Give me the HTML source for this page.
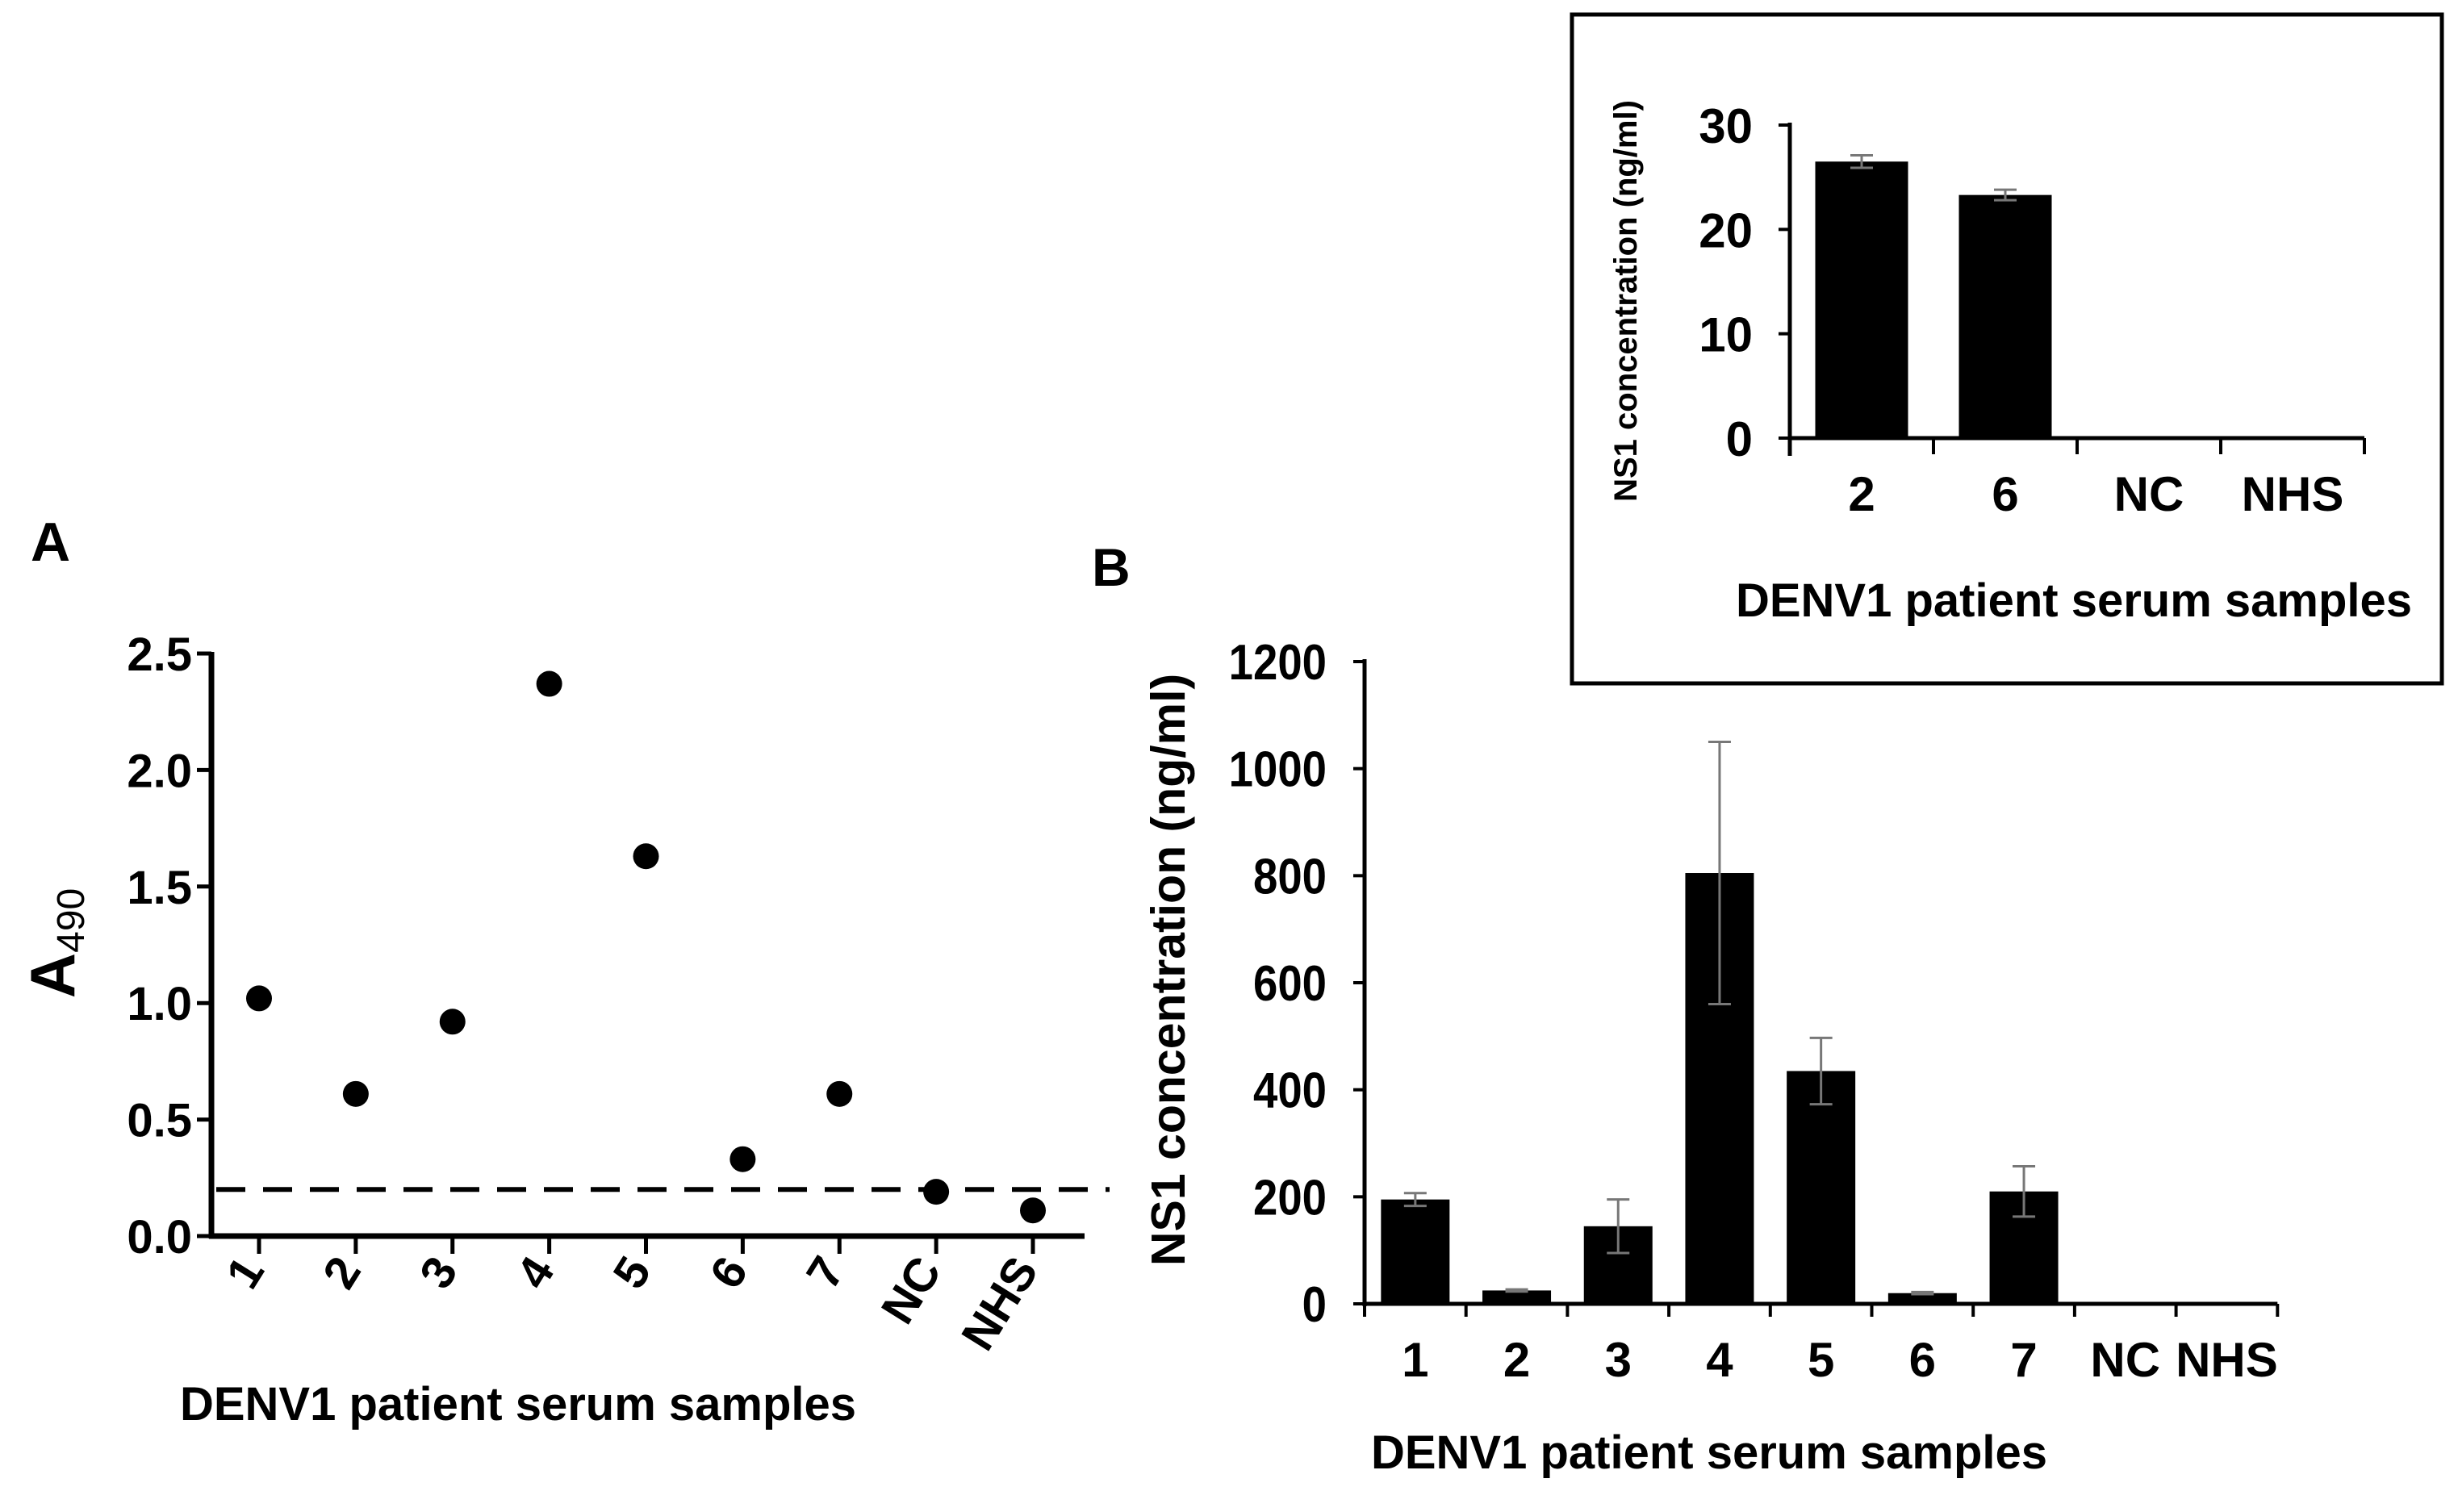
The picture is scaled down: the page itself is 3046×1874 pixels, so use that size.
<!DOCTYPE html>
<html><head><meta charset="utf-8"><style>
html,body{margin:0;padding:0;background:#fff;}
svg{display:block;font-family:"Liberation Sans",Arial,sans-serif;}
</style></head><body>
<svg id="fig" width="3046" height="1874" viewBox="0 0 3046 1874" xmlns="http://www.w3.org/2000/svg">
<g id="pa"></g>
<g id="pb"></g>
<g id="pc"></g>
</svg>
<script>
// Panel A data
const catsA = ["1","2","3","4","5","6","7","NC","NHS"];
const valsA = [1.02,0.61,0.92,2.37,1.63,0.33,0.61,0.19,0.11];
const ticksA = [0,0.5,1.0,1.5,2.0,2.5];
const cutoffA = [0.2];
// Panel B data
const catsB = ["1","2","3","4","5","6","7","NC","NHS"];
const valsB = [195,25,145,805,435,20,210,0,0];
const errB = [12,2,50,245,62,2,47,0,0];
const ticksB = [0,200,400,600,800,1000,1200];
// Inset data
const catsC = ["2","6","NC","NHS"];
const valsC = [26.5,23.3,0,0];
const errC = [0.6,0.5,0,0];
const ticksC = [0,10,20,30];

const NS="http://www.w3.org/2000/svg";
function mk(parent,tag,attrs,text){const e=document.createElementNS(NS,tag);for(const k in attrs)e.setAttribute(k,attrs[k]);if(text!==undefined)e.textContent=text;parent.appendChild(e);return e;}

// ---------- Panel A ----------
(function(){
const g=document.getElementById('pa');
const x0=262,y0=1532,yTop=810,xEnd=1344,vmax=2.5;
const ys=v=>y0-(v/vmax)*(y0-yTop);
const xs=i=>321+i*((1280-321)/8);
let t=mk(g,'text',{x:38,y:695,'font-size':68,'font-weight':'bold'},'A');

const yt=mk(g,'text',{transform:'translate(92,1169) rotate(-90)','text-anchor':'middle','font-size':78,'font-weight':'bold'});

mk(yt,'tspan',{},'A');mk(yt,'tspan',{'font-size':48,'font-weight':'normal',dy:12},'490');
let a=mk(g,'line',{x1:x0,y1:yTop-2,x2:x0,y2:y0+3,stroke:'#000','stroke-width':7});

a=mk(g,'line',{x1:x0-3,y1:y0,x2:xEnd,y2:y0,stroke:'#000','stroke-width':7});

ticksA.forEach(v=>{
 const y=ys(v);
 let l=mk(g,'line',{x1:x0-18,y1:y,x2:x0,y2:y,stroke:'#000','stroke-width':5});
 
 let tx=mk(g,'text',{x:238,y:y+21,'text-anchor':'end','font-size':58,'font-weight':'bold'},v.toFixed(1));
 
});
catsA.forEach((c,i)=>{
 const x=xs(i);
 let l=mk(g,'line',{x1:x,y1:y0,x2:x,y2:y0+22,stroke:'#000','stroke-width':5});
 
 let tx=mk(g,'text',{transform:`translate(${x+8},${y0+42}) rotate(-58)`,'text-anchor':'end','font-size':58,'font-weight':'bold'},c);
 
});
cutoffA.forEach(v=>{
 let d=mk(g,'line',{x1:268,y1:ys(v),x2:1375,y2:ys(v),stroke:'#000','stroke-width':6,'stroke-dasharray':'36,22'});
 
});
valsA.forEach((v,i)=>{
 let c=mk(g,'circle',{cx:xs(i),cy:ys(v),r:16,fill:'#000'});
 
});
t=mk(g,'text',{x:642,y:1760,'text-anchor':'middle','font-size':58,'font-weight':'bold'},'DENV1  patient serum samples');

})();

// ---------- Panel B ----------
(function(){
const g=document.getElementById('pb');
const x0=1691,y0=1616,yTop=820,vmax=1200,step=125.7,bw=85;
const ys=v=>y0-(v/vmax)*(y0-yTop);
const xc=i=>x0+step*(i+0.5);
let t=mk(g,'text',{x:1353,y:726,'font-size':66,'font-weight':'bold'},'B');

t=mk(g,'text',{transform:'translate(1468,1202) rotate(-90)','text-anchor':'middle','font-size':59,'font-weight':'bold'},'NS1 concentration (ng/ml)');

let a=mk(g,'line',{x1:x0,y1:yTop-3,x2:x0,y2:y0+3,stroke:'#000','stroke-width':5});

a=mk(g,'line',{x1:x0,y1:y0,x2:x0+step*9,y2:y0,stroke:'#000','stroke-width':5});

ticksB.forEach(v=>{
 const y=ys(v);
 let l=mk(g,'line',{x1:x0-14,y1:y,x2:x0,y2:y,stroke:'#000','stroke-width':4});
 
 let tx=mk(g,'text',{x:1644,y:y+22,'text-anchor':'end','font-size':62,'font-weight':'bold',transform:`translate(${1644*0.12},0) scale(0.88,1)`},String(v));
 
});
for(let k=0;k<=9;k++){
 let l=mk(g,'line',{x1:x0+step*k,y1:y0,x2:x0+step*k,y2:y0+16,stroke:'#000','stroke-width':4});
 
}
valsB.forEach((v,i)=>{
 const x=xc(i);
 if(v>0){
  let r=mk(g,'rect',{x:x-bw/2,y:ys(v),width:bw,height:y0-ys(v),fill:'#000'});
  
 }
 if(errB[i]>0){
  const e=mk(g,'path',{d:`M${x},${ys(v+errB[i])}V${ys(v-errB[i])}M${x-14},${ys(v+errB[i])}H${x+14}M${x-14},${ys(v-errB[i])}H${x+14}`,stroke:'#777','stroke-width':3,fill:'none'});
  
 }
 let tx=mk(g,'text',{x:x,y:1706,'text-anchor':'middle','font-size':60,'font-weight':'bold'},catsB[i]);
 
});
t=mk(g,'text',{x:2118,y:1820,'text-anchor':'middle','font-size':58,'font-weight':'bold'},'DENV1  patient serum samples');

})();

// ---------- Inset ----------
(function(){
const g=document.getElementById('pc');
let b=mk(g,'rect',{x:1948,y:18,width:1078,height:829,fill:'#fff',stroke:'#000','stroke-width':5});

const x0=2218,y0=543,yTop=155,vmax=30,step=178,bw=115;
const ys=v=>y0-(v/vmax)*(y0-yTop);
const xc=i=>x0+step*(i+0.5);
let t=mk(g,'text',{transform:'translate(2028,373) rotate(-90)','text-anchor':'middle','font-size':40,'font-weight':'bold'},'NS1 concentration (ng/ml)');

let a=mk(g,'line',{x1:x0,y1:yTop-3,x2:x0,y2:y0+22,stroke:'#000','stroke-width':5});

a=mk(g,'line',{x1:x0,y1:y0,x2:x0+step*4,y2:y0,stroke:'#000','stroke-width':5});

ticksC.forEach(v=>{
 const y=ys(v);
 let l=mk(g,'line',{x1:x0-14,y1:y,x2:x0,y2:y,stroke:'#000','stroke-width':4});
 
 let tx=mk(g,'text',{x:2172,y:y+22,'text-anchor':'end','font-size':60,'font-weight':'bold'},String(v));
 
});
for(let k=1;k<=4;k++){
 let l=mk(g,'line',{x1:x0+step*k,y1:y0,x2:x0+step*k,y2:y0+20,stroke:'#000','stroke-width':4});
 
}
valsC.forEach((v,i)=>{
 const x=xc(i);
 if(v>0){
  let r=mk(g,'rect',{x:x-bw/2,y:ys(v),width:bw,height:y0-ys(v),fill:'#000'});
  
 }
 if(errC[i]>0){
  const e=mk(g,'path',{d:`M${x},${ys(v+errC[i])}V${ys(v-errC[i])}M${x-14},${ys(v+errC[i])}H${x+14}M${x-14},${ys(v-errC[i])}H${x+14}`,stroke:'#777','stroke-width':3,fill:'none'});
  
 }
 let tx=mk(g,'text',{x:x,y:633,'text-anchor':'middle','font-size':60,'font-weight':'bold'},catsC[i]);
 
});
t=mk(g,'text',{x:2570,y:764,'text-anchor':'middle','font-size':58,'font-weight':'bold'},'DENV1  patient serum samples');

})();
</script>
</body></html>
